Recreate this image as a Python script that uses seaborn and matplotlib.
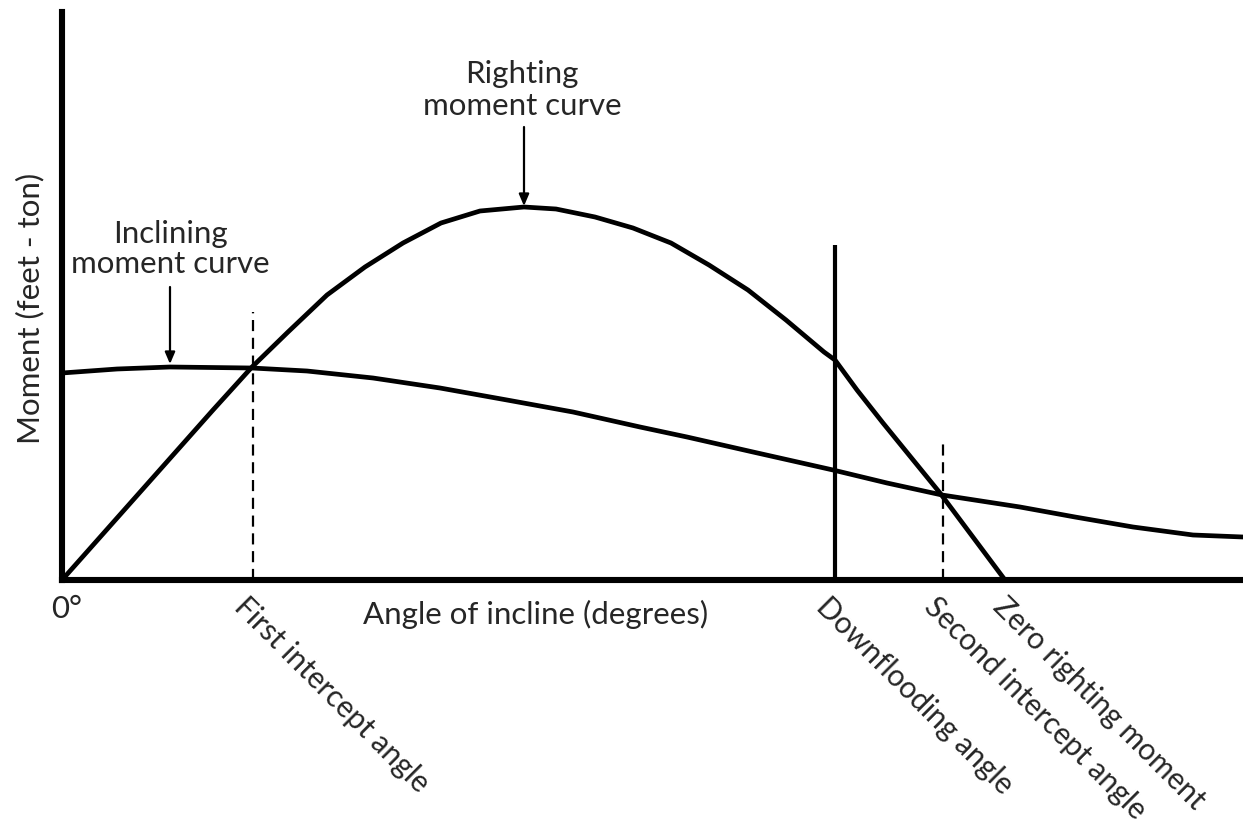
import matplotlib
matplotlib.use("Agg")
import matplotlib.pyplot as plt
import seaborn as sns
import pandas as pd

# curves (arbitrary units: angle along x, moment along y)
righting_angle = [0, 151, 190, 226, 265, 303, 341, 379, 418, 462, 494, 533,
                  571, 609, 647, 686, 724, 762, 773, 795, 821, 878, 943]
righting_moment = [0, 170, 213, 248, 285, 313, 337, 357, 369, 373, 371, 363,
                   352, 337, 315, 290, 260, 228, 220, 190, 157, 87, 0]

inclining_angle = [0, 55, 108, 190, 245, 311, 378, 445, 511, 578, 625, 691,
                   771, 825, 880, 958, 1013, 1071, 1131, 1181]
inclining_moment = [207, 211, 213, 212, 209, 202, 192, 180, 168, 153, 143, 128,
                    110, 97, 85, 73, 63, 53, 45, 43]

# marked angles on the x axis
mark_names = ["First intercept angle", "Downflooding angle",
              "Second intercept angle", "Zero righting moment"]
mark_angle = [191, 773, 881, 950]
first_intercept_top = 268
downflooding_top = 335
second_intercept_top = 139

righting = pd.DataFrame({"angle": righting_angle, "moment": righting_moment})
inclining = pd.DataFrame({"angle": inclining_angle, "moment": inclining_moment})

sns.set_style("white")
plt.rcParams["font.family"] = ["Lato", "DejaVu Sans"]
fs = 22.5

fig = plt.figure(figsize=(12.43, 8.31), dpi=100)
ax = fig.add_axes([62 / 1243, 251 / 831, 1181 / 1243, 568 / 831])

sns.lineplot(data=righting, x="angle", y="moment", ax=ax, color="black",
             linewidth=3.4, sort=False)
sns.lineplot(data=inclining, x="angle", y="moment", ax=ax, color="black",
             linewidth=3.4, sort=False)
for ln in ax.lines:
    ln.set_solid_joinstyle("round")

ax.vlines(mark_angle[0], 0, first_intercept_top, color="black", lw=1.6,
          linestyles=(0, (5, 3)))
ax.vlines(mark_angle[1], 0, downflooding_top, color="black", lw=3.0)
ax.vlines(mark_angle[2], 0, second_intercept_top, color="black", lw=1.6,
          linestyles=(0, (5, 3)))

ax.set_xlim(0, 1181)
ax.set_ylim(0, 568)
ax.set_xticks([])
ax.set_yticks([])
ax.set_xlabel("")
ax.set_ylabel("")
for s in ["top", "right"]:
    ax.spines[s].set_visible(False)
for s in ["left", "bottom"]:
    ax.spines[s].set_linewidth(4.4)
    ax.spines[s].set_color("black")

# annotations with arrows
ax.annotate("", xy=(108, 216), xytext=(108, 293),
            arrowprops=dict(arrowstyle="-|>,head_length=0.7,head_width=0.3",
                            color="black", lw=1.6, shrinkA=0, shrinkB=0))
ax.annotate("", xy=(462, 374), xytext=(462, 453),
            arrowprops=dict(arrowstyle="-|>,head_length=0.7,head_width=0.3",
                            color="black", lw=1.6, shrinkA=0, shrinkB=0))
ax.text(108, 337, "Inclining", ha="center", va="baseline", fontsize=fs)
ax.text(108, 307, "moment curve", ha="center", va="baseline", fontsize=fs)
ax.text(460, 497, "Righting", ha="center", va="baseline", fontsize=fs)
ax.text(460, 465, "moment curve", ha="center", va="baseline", fontsize=fs)

ax.text(-11, -38, "0°", ha="left", va="baseline", fontsize=fs, clip_on=False)
ax.text(474, -44, "Angle of incline (degrees)", ha="center", va="baseline",
        fontsize=fs, clip_on=False)
ax.text(-32, 272, "Moment (feet - ton)", rotation=90, ha="center",
        va="center", fontsize=fs, clip_on=False)

for name, a in zip(mark_names, mark_angle):
    ax.text(a - 4, -12, name, rotation=-45, rotation_mode="anchor",
            ha="left", va="top", fontsize=21.5, clip_on=False)

fig.savefig("out.png", dpi=100)
